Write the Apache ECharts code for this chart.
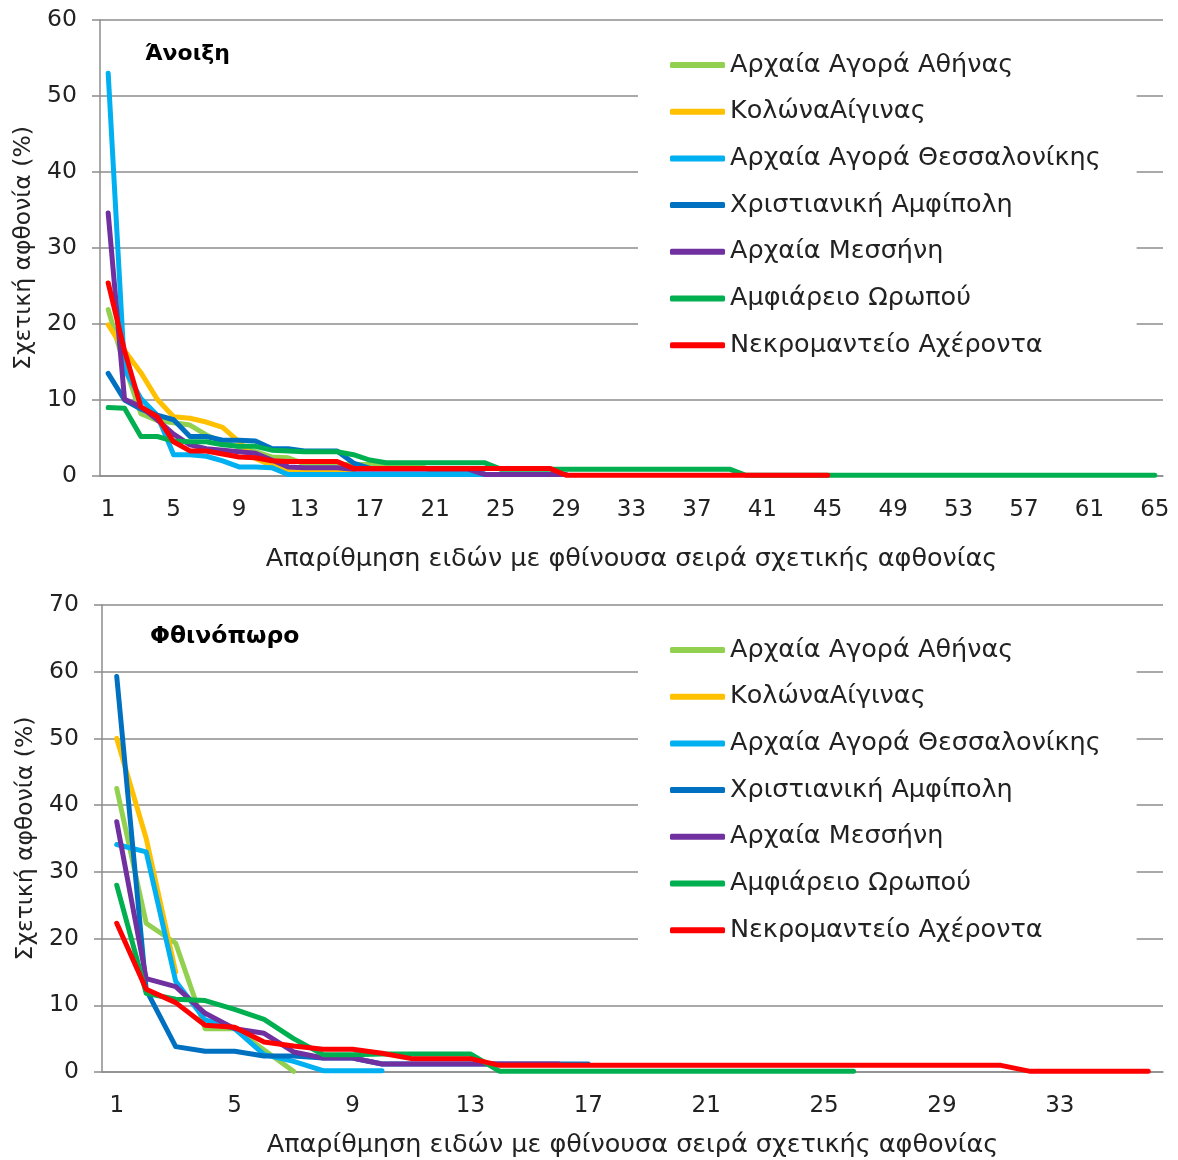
<!DOCTYPE html>
<html>
<head>
<meta charset="utf-8">
<script src="https://cdn.jsdelivr.net/npm/echarts@6/dist/echarts.min.js"></script>
<style>
  html, body { margin: 0; padding: 0; background: #fff; }
  #chart { width: 1178px; height: 1160px; }
</style>
</head>
<body>
<div id="chart"></div>
<script>
// κατηγορίες (αριθμός είδους)
const springCats = ['1','2','3','4','5','6','7','8','9','10','11','12','13','14','15','16','17','18','19','20',
  '21','22','23','24','25','26','27','28','29','30','31','32','33','34','35','36','37','38','39','40',
  '41','42','43','44','45','46','47','48','49','50','51','52','53','54','55','56','57','58','59','60',
  '61','62','63','64','65'];
const autumnCats = ['1','2','3','4','5','6','7','8','9','10','11','12','13','14','15','16','17','18',
  '19','20','21','22','23','24','25','26','27','28','29','30','31','32','33','34','35','36'];

const siteNames = ['Αρχαία Αγορά Αθήνας', 'ΚολώναΑίγινας', 'Αρχαία Αγορά Θεσσαλονίκης',
  'Χριστιανική Αμφίπολη', 'Αρχαία Μεσσήνη', 'Αμφιάρειο Ωρωπού', 'Νεκρομαντείο Αχέροντα'];
const siteColors = ['#92D050', '#FFC000', '#00B0F0', '#0070C0', '#7030A0', '#00B050', '#FF0000'];

// Άνοιξη
const springAthens = [21.9, 14.5, 8.2, 7.3, 7.0, 6.7, 5.4, 4.5, 3.8, 3.2, 2.5, 2.4, 1.6, 1.6, 1.5, 1.5,
  1.5, 1.4, 1.4, 1.4, 0.5, 0.4, 0.4];
const springAegina = [19.9, 16.5, 13.6, 10.1, 7.8, 7.6, 7.1, 6.4, 4.5, 2.3, 1.4, 0.8, 0.7, 0.7, 0.7, 0.7];
const springThess = [53.0, 14.0, 10.2, 8.0, 2.8, 2.8, 2.6, 2.0, 1.2, 1.2, 1.1, 0.2, 0.2, 0.2, 0.2, 0.2,
  0.2, 0.2, 0.2, 0.2, 0.2, 0.2, 0.2, 0.2];
const springAmphi = [13.5, 10.0, 8.8, 8.0, 7.4, 5.2, 5.2, 4.7, 4.7, 4.6, 3.6, 3.6, 3.3, 3.3, 3.3, 1.7,
  1.0, 1.0, 1.0, 1.0, 1.0, 1.0, 1.0, 0.9];
const springMessini = [34.6, 10.1, 9.1, 7.4, 5.5, 4.1, 3.6, 3.4, 3.2, 3.0, 2.1, 1.2, 1.1, 1.1, 1.1, 0.9,
  0.9, 0.9, 0.9, 0.9, 0.9, 0.9, 0.9, 0.2, 0.2, 0.2, 0.2, 0.2, 0.2];
const springOropos = [9.0, 8.9, 5.2, 5.2, 4.6, 4.5, 4.5, 4.1, 3.9, 3.9, 3.4, 3.3, 3.2, 3.2, 3.2, 2.8,
  2.1, 1.75, 1.75, 1.75, 1.75, 1.75, 1.75, 1.75, 0.9, 0.9, 0.9, 0.9, 0.9, 0.9, 0.9, 0.9, 0.9, 0.9,
  0.9, 0.9, 0.9, 0.9, 0.9, 0.1, 0.1, 0.1, 0.1, 0.1, 0.1, 0.1, 0.1, 0.1, 0.1, 0.1, 0.1, 0.1, 0.1,
  0.1, 0.1, 0.1, 0.1, 0.1, 0.1, 0.1, 0.1, 0.1, 0.1, 0.1, 0.1];
const springAcheron = [25.4, 16.5, 9.1, 7.8, 4.5, 3.3, 3.3, 2.9, 2.5, 2.4, 2.0, 1.9, 1.9, 1.9, 1.9,
  1.0, 1.0, 1.0, 1.0, 1.0, 1.0, 1.0, 1.0, 1.0, 1.0, 1.0, 1.0, 1.0, 0.1, 0.1, 0.1, 0.1, 0.1, 0.1,
  0.1, 0.1, 0.1, 0.1, 0.1, 0.1, 0.1, 0.1, 0.1, 0.1, 0.1];

// Φθινόπωρο
const autumnAthens = [42.5, 22.3, 19.3, 6.5, 6.5, 3.3, 0.1];
const autumnAegina = [50.0, 35.0, 15.0];
const autumnThess = [34.1, 33.0, 13.6, 7.8, 6.5, 2.6, 1.6, 0.2, 0.2, 0.2];
const autumnAmphi = [59.3, 12.3, 3.8, 3.1, 3.1, 2.4, 2.4, 2.1, 2.1, 1.2, 1.2, 1.2, 1.2, 1.2, 1.2, 1.2, 1.2];
const autumnMessini = [37.5, 14.0, 12.8, 8.8, 6.5, 5.8, 3.0, 2.1, 2.1, 1.2, 1.2, 1.2, 1.2, 1.2, 1.2, 1.2];
const autumnOropos = [28.0, 11.8, 10.9, 10.7, 9.4, 7.9, 5.0, 2.6, 2.6, 2.7, 2.7, 2.7, 2.7, 0.1, 0.1,
  0.1, 0.1, 0.1, 0.1, 0.1, 0.1, 0.1, 0.1, 0.1, 0.1, 0.1];
const autumnAcheron = [22.3, 12.4, 10.4, 7.0, 6.7, 4.5, 3.9, 3.4, 3.4, 2.8, 2.0, 2.0, 2.0, 1.0, 1.0,
  1.0, 1.0, 1.0, 1.0, 1.0, 1.0, 1.0, 1.0, 1.0, 1.0, 1.0, 1.0, 1.0, 1.0, 1.0, 1.0, 0.1, 0.1, 0.1, 0.1, 0.1];

const springData = [springAthens, springAegina, springThess, springAmphi, springMessini, springOropos, springAcheron];
const autumnData = [autumnAthens, autumnAegina, autumnThess, autumnAmphi, autumnMessini, autumnOropos, autumnAcheron];

const font = 'DejaVu Sans';
const axisGrey = '#8c8c8c';
const textColor = '#222';
const xName = 'Απαρίθμηση ειδών με φθίνουσα σειρά σχετικής αφθονίας';
const yName = 'Σχετική αφθονία (%)';

function xAxisFor(gridIndex, cats, gap) {
  return {
    type: 'category',
    gridIndex: gridIndex,
    data: cats,
    boundaryGap: true,
    name: xName,
    nameLocation: 'middle',
    nameGap: gap,
    nameTextStyle: { fontFamily: font, fontSize: 25.5, color: textColor },
    axisLine: { lineStyle: { color: axisGrey, width: 1.5 } },
    axisTick: { interval: 0, length: 7, lineStyle: { color: axisGrey, width: 1.5 } },
    axisLabel: { interval: 3, fontFamily: font, fontSize: 23, color: textColor, margin: 23 },
    splitLine: { show: false },
  };
}

function yAxisFor(gridIndex, max) {
  return {
    type: 'value',
    gridIndex: gridIndex,
    min: 0,
    max: max,
    interval: 10,
    name: yName,
    nameLocation: 'middle',
    nameGap: 64,
    nameTextStyle: { fontFamily: font, fontSize: 23.5, color: textColor },
    axisLine: { show: true, lineStyle: { color: axisGrey, width: 1.5 } },
    axisTick: { show: true, length: 8, lineStyle: { color: axisGrey, width: 1.5 } },
    axisLabel: { fontFamily: font, fontSize: 23.5, color: textColor, margin: 23 },
    splitLine: { lineStyle: { color: axisGrey, width: 1.5 } },
  };
}

function legendFor(top) {
  return {
    data: siteNames,
    orient: 'vertical',
    left: 638,
    top: top,
    backgroundColor: '#fff',
    padding: [10, 36, 10, 32],
    icon: 'roundRect',
    itemWidth: 55,
    itemHeight: 6,
    itemGap: 16.7,
    textStyle: { fontFamily: font, fontSize: 25.5, lineHeight: 30, color: textColor },
  };
}

let series = [];
[springData, autumnData].forEach((set, gi) => {
  set.forEach((values, i) => {
    series.push({
      name: siteNames[i],
      type: 'line',
      xAxisIndex: gi,
      yAxisIndex: gi,
      data: values,
      symbol: 'none',
      color: siteColors[i],
      lineStyle: { width: 5, cap: 'round', join: 'round' },
    });
  });
});

let option = {
  backgroundColor: '#fff',
  animation: false,
  title: [
    { text: 'Άνοιξη', left: 140, top: 38, textStyle: { fontFamily: font, fontSize: 22, fontWeight: 'bold', color: '#000' } },
    { text: 'Φθινόπωρο', left: 145, top: 620, textStyle: { fontFamily: font, fontSize: 23.5, fontWeight: 'bold', color: '#000' } },
  ],
  legend: [legendFor(40), legendFor(625)],
  grid: [
    { left: 100, right: 15, top: 20, height: 456 },
    { left: 102, right: 15, top: 605, height: 467 },
  ],
  xAxis: [xAxisFor(0, springCats, 70), xAxisFor(1, autumnCats, 60)],
  yAxis: [yAxisFor(0, 60), yAxisFor(1, 70)],
  series: series,
};

let myChart = echarts.init(document.getElementById('chart'), null, { renderer: 'canvas' });
myChart.setOption(option);
</script>
</body>
</html>
